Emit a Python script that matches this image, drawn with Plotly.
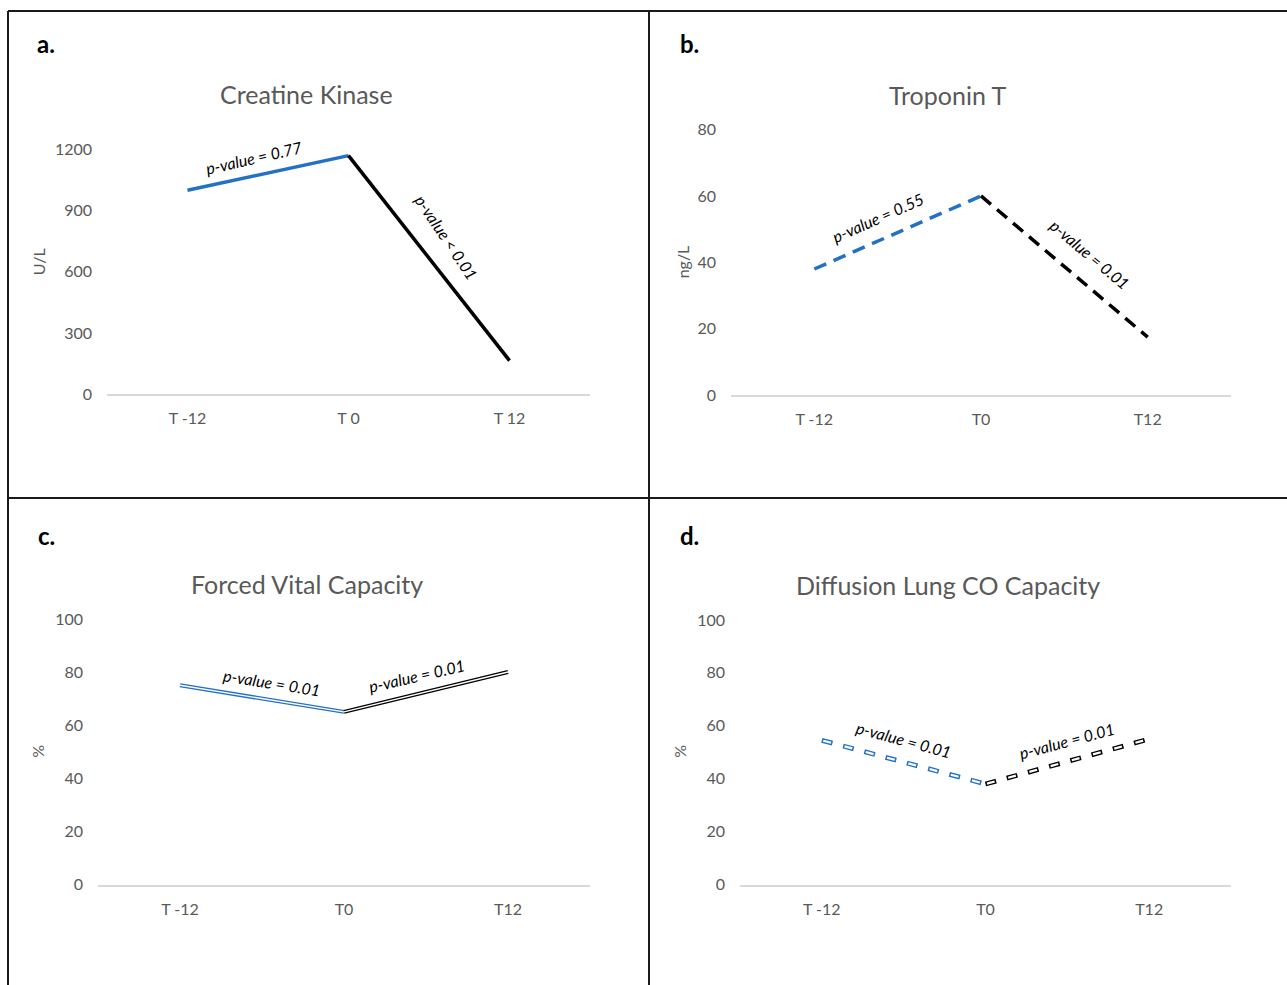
import plotly.graph_objects as go

W, H = 1287, 985
# the photographed picture maps page y to about 9.3 + 0.982*y; target positions are pre-compensated
Y_OFF, Y_SCALE = 9.3, 0.982
FONT = "Lato, 'Open Sans', sans-serif"
BLUE = "#2271C4"
BLACK = "#000000"
GREY = "#595959"

# ---------------- data ----------------
ck_cats = ["T -12", "T 0", "T 12"]
ck_vals = [1000, 1170, 165]
ck_pvals = ["p-value = 0.77", "p-value < 0.01"]

tn_cats = ["T -12", "T0", "T12"]
tn_vals = [38, 60, 17.5]
tn_pvals = ["p-value = 0.55", "p-value = 0.01"]

fvc_cats = ["T -12", "T0", "T12"]
fvc_vals = [75, 65, 80]
fvc_pvals = ["p-value = 0.01", "p-value = 0.01"]

dl_cats = ["T -12", "T0", "T12"]
dl_vals = [54.5, 38, 55]
dl_pvals = ["p-value = 0.01", "p-value = 0.01"]

panels = [
    dict(letter="a.", title="Creatine Kinase", ytitle="U/L", cats=ck_cats, vals=ck_vals, pv=ck_pvals,
         yr=[0, 1200], dtick=300, xd=(107, 590), yd=(394, 149), style="solid",
         letter_pos=(46, 43), title_pos=(306, 93), ytitle_pos=(38, 262),
         ann=[(-13, -14, 15), (56, 18, 21)]),
    dict(letter="b.", title="Troponin T", ytitle="ng/L", cats=tn_cats, vals=tn_vals, pv=tn_pvals,
         yr=[0, 80], dtick=20, xd=(731, 1231), yd=(395, 129), style="dash",
         letter_pos=(689, 43), title_pos=(948, 94), ytitle_pos=(682, 262),
         ann=[(-24, -20, 15), (40, 26, 12)]),
    dict(letter="c.", title="Forced Vital Capacity", ytitle="%", cats=fvc_cats, vals=fvc_vals, pv=fvc_pvals,
         yr=[0, 100], dtick=20, xd=(98, 590), yd=(885, 619), style="double",
         letter_pos=(46, 535), title_pos=(307, 584), ytitle_pos=(38, 752),
         ann=[(9, 10, 16), (-13, -9, 16)]),
    dict(letter="d.", title="Diffusion Lung CO Capacity", ytitle="%", cats=dl_cats, vals=dl_vals, pv=dl_pvals,
         yr=[0, 100], dtick=20, xd=(740, 1231), yd=(885, 620), style="doubledash",
         letter_pos=(689, 535), title_pos=(948, 585), ytitle_pos=(680, 752),
         ann=[(15, 0, 23), (-15, 0, 21)]),
]

def px(x):
    return x / W

def py(y):
    page_y = (y - Y_OFF) / Y_SCALE
    return 1 - page_y / H

fig = go.Figure()
layout = dict(
    width=W, height=H, margin=dict(l=0, r=0, t=0, b=0),
    paper_bgcolor="white", plot_bgcolor="white", showlegend=False,
    font=dict(family=FONT, color=GREY),
)
annotations = []
shapes = []

for i, p in enumerate(panels):
    n = "" if i == 0 else str(i + 1)
    xa, ya = "x" + n, "y" + n
    cats, vals = p["cats"], p["vals"]
    segs = [(cats[0:2], vals[0:2], BLUE), (cats[1:3], vals[1:3], BLACK)]
    for sx, sy, col in segs:
        if p["style"] == "solid":
            fig.add_trace(go.Scatter(x=sx, y=sy, mode="lines", xaxis=xa, yaxis=ya,
                                     line=dict(color=col, width=3.5), hoverinfo="skip"))
        elif p["style"] == "dash":
            fig.add_trace(go.Scatter(x=sx, y=sy, mode="lines", xaxis=xa, yaxis=ya,
                                     line=dict(color=col, width=3.5, dash="13px,8px"), hoverinfo="skip"))
        elif p["style"] == "double":
            fig.add_trace(go.Scatter(x=sx, y=sy, mode="lines", xaxis=xa, yaxis=ya,
                                     line=dict(color=col, width=4), hoverinfo="skip"))
            fig.add_trace(go.Scatter(x=sx, y=sy, mode="lines", xaxis=xa, yaxis=ya,
                                     line=dict(color="white", width=1.4), hoverinfo="skip"))
        else:
            fig.add_trace(go.Scatter(x=sx, y=sy, mode="lines", xaxis=xa, yaxis=ya,
                                     line=dict(color=col, width=4.8, dash="11px,11px"), hoverinfo="skip"))
            fig.add_trace(go.Scatter(x=sx, y=sy, mode="lines", xaxis=xa, yaxis=ya,
                                     line=dict(color="white", width=2.2, dash="0px,1.5px,8px,12.5px"),
                                     hoverinfo="skip"))

    layout["xaxis" + n] = dict(
        domain=[px(p["xd"][0]), px(p["xd"][1])], anchor=ya,
        type="category", categoryorder="array", categoryarray=cats,
        range=[-0.5, 2.5], showgrid=False, zeroline=False,
        showline=True, linecolor="#D9D9D9", linewidth=1.5,
        ticks="", tickfont=dict(family=FONT, size=16, color=GREY),
        ticklabelstandoff=9, fixedrange=True,
    )
    layout["yaxis" + n] = dict(
        domain=[py(p["yd"][0]), py(p["yd"][1])], anchor=xa,
        range=p["yr"], dtick=p["dtick"], tick0=0,
        showgrid=False, zeroline=False, showline=False,
        ticks="", tickfont=dict(family=FONT, size=16, color=GREY),
        ticklabelstandoff=14, fixedrange=True,
    )

    # p-value labels, placed at segment midpoints and offset in pixels
    for k, (ang, dx, dy) in enumerate(p["ann"]):
        annotations.append(dict(
            x=k + 0.5, y=(vals[k] + vals[k + 1]) / 2, xref=xa, yref=ya,
            text="<i>" + p["pv"][k] + "</i>", showarrow=False, textangle=ang,
            xshift=dx, yshift=dy, xanchor="center", yanchor="middle",
            font=dict(family=FONT, size=16, color="black"),
        ))
    common = dict(xref="paper", yref="paper", showarrow=False, xanchor="center", yanchor="middle")
    annotations.append(dict(x=px(p["letter_pos"][0]), y=py(p["letter_pos"][1]),
                            text="<b>" + p["letter"] + "</b>",
                            font=dict(family=FONT, size=24, color="black"), **common))
    annotations.append(dict(x=px(p["title_pos"][0]), y=py(p["title_pos"][1]),
                            text=p["title"], font=dict(family=FONT, size=25, color=GREY), **common))
    annotations.append(dict(x=px(p["ytitle_pos"][0]), y=py(p["ytitle_pos"][1]),
                            text=p["ytitle"], textangle=-90,
                            font=dict(family=FONT, size=16, color=GREY), **common))

# panel borders
border = dict(color="#1A1A1A", width=2)
top = 1 - 1 / H
for x0, y0, x1, y1 in [(8, top, W + 5, top), (8, top, 8, -0.01),
                       (649, top, 649, -0.01), (8, py(498), W + 5, py(498))]:
    shapes.append(dict(type="line", xref="paper", yref="paper",
                       x0=px(x0), y0=y0, x1=px(x1), y1=y1, line=border))

layout["annotations"] = annotations
layout["shapes"] = shapes
fig.update_layout(**layout)
fig.write_html(
    "out.html",
    config={"displayModeBar": False},
    post_script="document.documentElement.style.margin='0';document.body.style.margin='0';"
                "document.body.style.padding='0';document.documentElement.style.overflow='hidden';",
)
